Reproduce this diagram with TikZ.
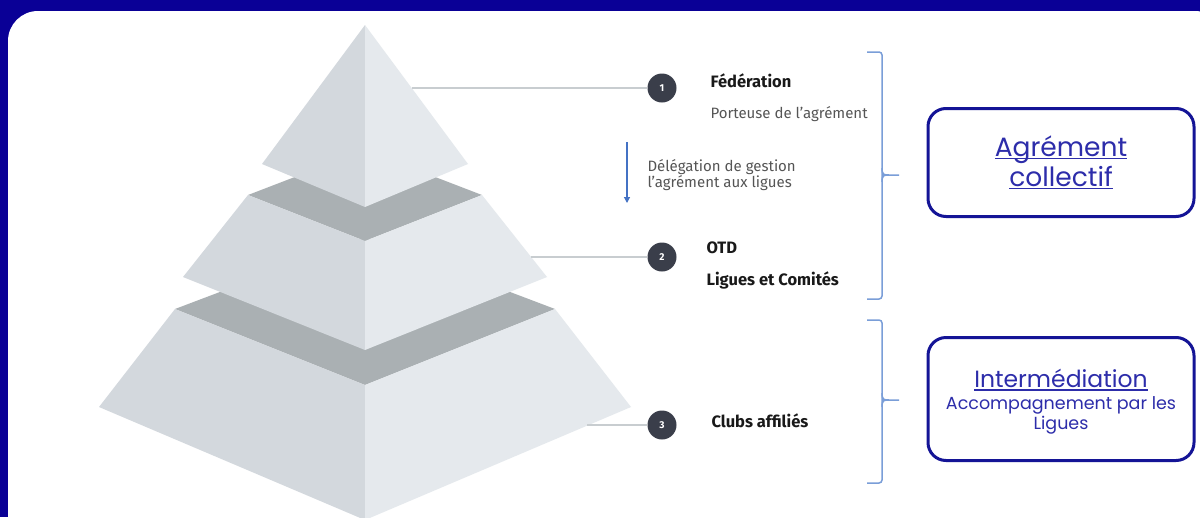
\documentclass[tikz,border=0pt]{standalone}
\usepackage{fontspec}
\setmainfont{Fira Sans}
\newfontfamily\boxfont{Poppins}
\usetikzlibrary{arrows.meta}
\newcommand\myul[1]{\setbox0\hbox{#1}\rlap{\rule[-2.9pt]{\wd0}{1.3pt}}\box0}
\definecolor{bgblue}{RGB}{10,0,150}
\definecolor{faceL}{RGB}{211,216,221}
\definecolor{faceR}{RGB}{229,233,237}
\definecolor{band}{RGB}{170,176,179}
\definecolor{connc}{RGB}{200,205,208}
\definecolor{circc}{RGB}{58,62,74}
\definecolor{bracec}{RGB}{122,158,216}
\definecolor{arrowc}{RGB}{68,114,196}
\definecolor{boxc}{RGB}{20,20,150}
\definecolor{boxtext}{RGB}{45,45,170}
\definecolor{greytext}{RGB}{85,85,85}
\tikzset{
  conn/.style={draw=connc, line width=1.5pt},
  numcirc/.style={circle, fill=circc, text=white, font=\bfseries\fontsize{10}{10}\selectfont, minimum size=29pt, inner sep=0pt},
  titletext/.style={anchor=west, font=\bfseries\fontsize{16.5}{18}\selectfont, text=black!90},
  subtext/.style={anchor=west, font=\fontsize{15}{15.5}\selectfont, text=greytext, align=left},
  bracestyle/.style={draw=bracec, line width=1.5pt, rounded corners=3pt},
  bigbox/.style={draw=boxc, line width=3pt, rounded corners=18pt, minimum width=266pt, inner sep=0pt, align=center, text=boxtext},
  boxlabel/.style={align=center, text=boxtext, inner sep=0pt},
}
\begin{document}
\begin{tikzpicture}[x=1pt,y=-1pt]
\useasboundingbox (0,0) rectangle (1200,517);
\fill[bgblue] (0,0) rectangle (1200,517);
\begin{scope}
\clip (0,0) rectangle (1200,517);
\fill[white, rounded corners=30pt] (8,11) rectangle (1225,545);
% base tier
\fill[band] (175,309) -- (365,237) -- (555,309) -- (365,385) -- cycle;
\fill[faceL] (175,309) -- (365,385) -- (365,520) -- (99,407) -- cycle;
\fill[faceR] (365,385) -- (555,309) -- (631,407) -- (365,520) -- cycle;
% middle tier
\fill[band] (248,195) -- (365,150) -- (482,195) -- (365,241) -- cycle;
\fill[faceL] (248,195) -- (365,241) -- (365,350) -- (183,277) -- cycle;
\fill[faceR] (365,241) -- (482,195) -- (547,277) -- (365,350) -- cycle;
% top tier
\fill[faceL] (365,25) -- (365,207) -- (262,164) -- cycle;
\fill[faceR] (365,25) -- (468,164) -- (365,207) -- cycle;
\end{scope}

% connectors
\coordinate (p1) at (412,88);
\coordinate (p2) at (531,257);
\coordinate (p3) at (587,425);
\node[numcirc] (c1) at (662,88) {1};
\node[numcirc] (c2) at (662,257) {2};
\node[numcirc] (c3) at (662,425) {3};
\draw[conn] (p1) -- (c1);
\draw[conn] (p2) -- (c2);
\draw[conn] (p3) -- (c3);

% texts
\node[titletext] (t1) at (707,81) {Fédération};
\node[subtext] (s1) at (707,114) {Porteuse de l’agrément};
\node[subtext] (d1) at (644,175) {Délégation de gestion\\l’agrément aux ligues};
\node[titletext] (t2) at (703,248) {OTD};
\node[titletext] (t3) at (703,280) {Ligues et Comités};
\node[titletext] (t4) at (708,421) {Clubs affiliés};

% delegation arrow
\coordinate (a1) at (627,142);
\coordinate (a2) at (627,203);
\draw[arrowc, line width=1.2pt, -{Triangle[width=6pt,length=6pt]}] (a1) -- (a2);

% braces
\draw[bracestyle] (867,52) -| (882,299) -- (867,299);
\draw[bracestyle, rounded corners=0pt] (882,168) .. controls (882,175) and (884,175) .. (889,175) -- (899,175);
\draw[bracestyle, rounded corners=0pt] (882,182) .. controls (882,175) and (884,175) .. (889,175);
\draw[bracestyle] (867,320) -| (882,483) -- (867,483);
\draw[bracestyle, rounded corners=0pt] (882,393) .. controls (882,400) and (884,400) .. (889,400) -- (899,400);
\draw[bracestyle, rounded corners=0pt] (882,407) .. controls (882,400) and (884,400) .. (889,400);

% boxes
\node[bigbox, minimum height=108pt, font=\boxfont\fontsize{26.5}{30}\selectfont] (b1) at (1061,162.5) {\myul{Agrément}\\\myul{collectif}};
\node[bigbox, minimum height=123pt] (b2) at (1061,399) {};
\node[boxlabel, font=\boxfont\fontsize{17.5}{20}\selectfont] (b2t) at (1061,402) {{\fontsize{23.5}{24}\selectfont\myul{Intermédiation}}\\[2pt]Accompagnement par les\\Ligues};
\end{tikzpicture}
\end{document}
